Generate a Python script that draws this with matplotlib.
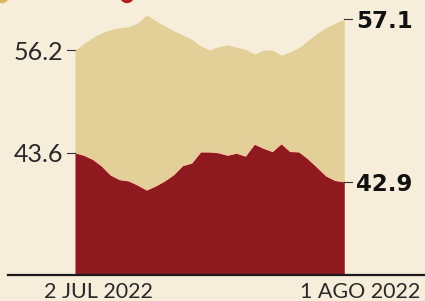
import numpy as np
import matplotlib
matplotlib.use('Agg')
from matplotlib import pyplot as plt
from matplotlib.patches import Circle

# 2 jul 2022 .. 1 ago 2022, un punto por dia
dias = np.arange(31)
aprueba = [56.20, 56.39, 56.57, 56.71, 56.80, 56.85, 56.88, 56.99, 57.22, 57.05,
           56.90, 56.76, 56.64, 56.51, 56.32, 56.20, 56.30, 56.35, 56.28, 56.22,
           56.08, 56.20, 56.20, 56.05, 56.15, 56.28, 56.49, 56.69, 56.86, 56.98,
           57.10]
desaprueba = [43.60, 43.54, 43.44, 43.28, 43.06, 42.95, 42.92, 42.82, 42.70, 42.80,
              42.92, 43.07, 43.29, 43.35, 43.62, 43.62, 43.60, 43.54, 43.59, 43.52,
              43.81, 43.71, 43.63, 43.82, 43.63, 43.62, 43.45, 43.25, 43.04, 42.93,
              42.90]
etiquetas_x = ['2 JUL 2022', '1 AGO 2022']

fondo = '#F7EDDB'
beige = '#E3CF98'
rojo = '#8E1A1F'

# eje partido: cada serie tiene su propio tramo vertical
v_nudos = [40.0, 44.0, 55.8, 60.0]
h_nudos = [-26.8, 138.9, 211.2, 355.7]
def fwd(v):
    return np.interp(v, v_nudos, h_nudos)
def inv(h):
    return np.interp(h, h_nudos, v_nudos)

fig = plt.figure(figsize=(4.25, 3.01), dpi=100, facecolor=fondo)
ax = fig.add_axes([8/425, 26/301, 417/425, 275/301])
ax.set_facecolor(fondo)
ax.set_yscale('function', functions=(fwd, inv))
ymin, ymax = inv(0), inv(275)
ax.set_ylim(ymin, ymax)
ax.set_xlim(-7.47, 39.0)

ax.fill_between(dias, ymin, aprueba, color=beige, lw=0)
ax.fill_between(dias, ymin, desaprueba, color=rojo, lw=0)
ax.plot(dias, desaprueba, color='#F3C6A0', lw=0.9)

for s in ['left', 'right', 'top']:
    ax.spines[s].set_visible(False)
ax.spines['bottom'].set_linewidth(1.6)
ax.spines['bottom'].set_color('#1a1a1a')
ax.set_xticks([])
ax.set_yticks([])

for serie in (aprueba, desaprueba):
    v = serie[0]
    ax.plot([dias[0] - 0.9, dias[0]], [v, v], color='#333333', lw=0.8, clip_on=False)
    ax.text(dias[0] - 1.3, v, f'{v:.1f}', ha='right', va='center_baseline',
            fontsize=18, color='#2a2a2a', family='Lato')
    v = serie[-1]
    ax.plot([dias[-1], dias[-1] + 0.9], [v, v], color='#333333', lw=0.8, clip_on=False)
    ax.text(dias[-1] + 1.3, v, f'{v:.1f}', ha='left', va='center_baseline',
            fontsize=16.5, color='#111111', fontweight='bold')

for xd, lab in zip([2.62, 31.77], etiquetas_x):
    ax.text(xd, -0.025, lab, transform=ax.get_xaxis_transform(), ha='center',
            va='top', fontsize=15.5, color='#2a2a2a', family='Lato')

# leyenda recortada arriba
fig.add_artist(Circle((0.02, 3.05), 0.065, color='#D9B65E',
                      transform=fig.dpi_scale_trans))
fig.add_artist(Circle((1.27, 3.05), 0.065, color='#B01E22',
                      transform=fig.dpi_scale_trans))

fig.savefig('out.png', dpi=100, facecolor=fondo)
